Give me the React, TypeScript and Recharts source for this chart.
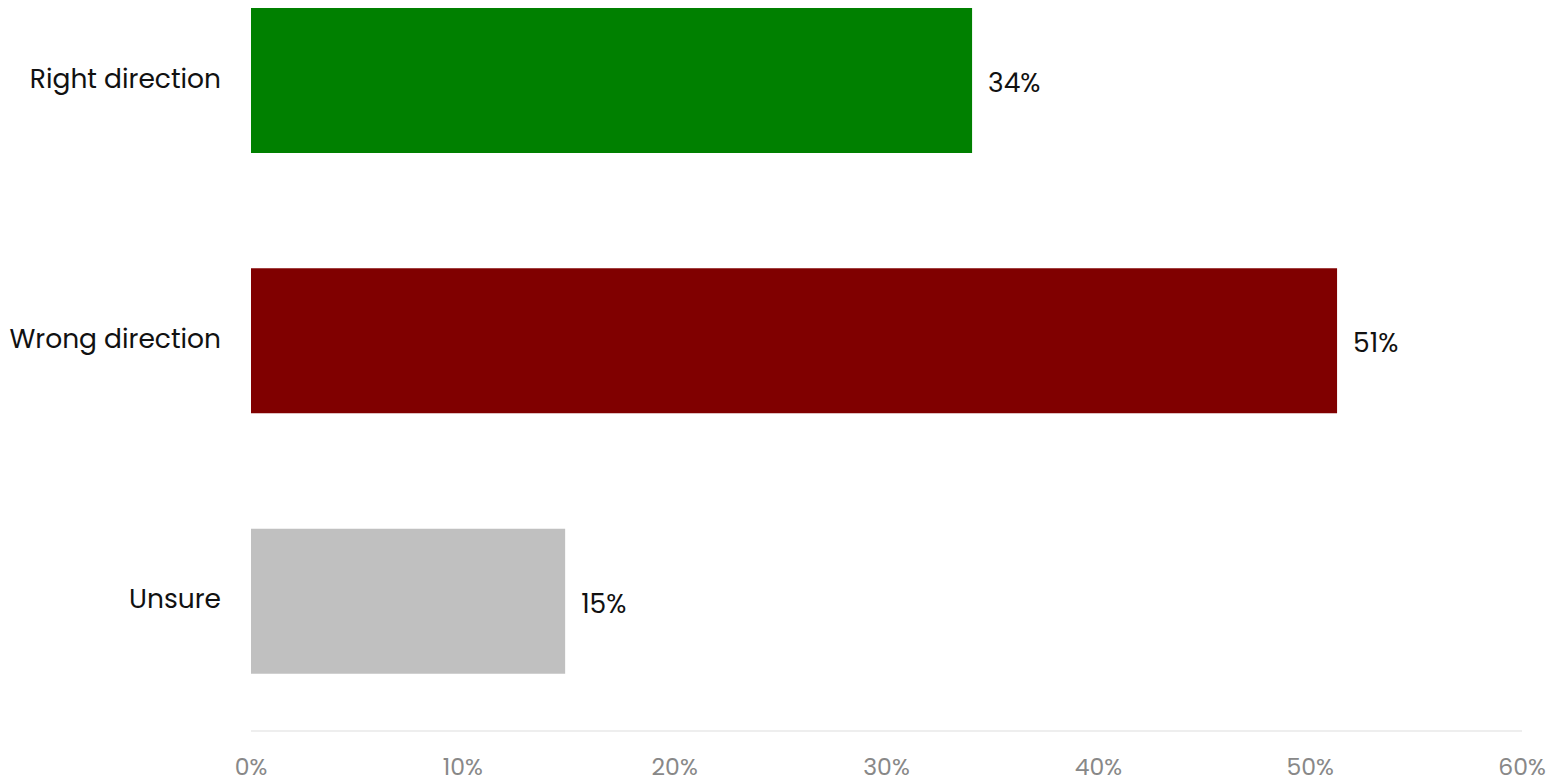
import { BarChart, Bar, XAxis, YAxis, Cell, LabelList } from 'recharts'

const categories = ['Right direction', 'Wrong direction', 'Unsure']
const shares = [34.04, 51.27, 14.83]
const barColors = ['#008000', '#800000', '#c0c0c0']
const xTicks = [0, 10, 20, 30, 40, 50, 60]

const data = categories.map((name, i) => ({ name, value: shares[i] }))

const font = 'Poppins, "Noto Sans", sans-serif'

export default function App() {
  return (
    <div style={{ position: 'absolute', top: -50, left: 0, width: 1550, height: 832, fontFamily: font }}>
      <BarChart
        width={1550}
        height={832}
        data={data}
        layout="vertical"
        margin={{ top: 0, right: 28, bottom: 0, left: 0 }}
      >
        <XAxis
          type="number"
          domain={[0, 60]}
          ticks={xTicks}
          tickFormatter={(v: number) => `${v}%`}
          height={51}
          stroke="#dddddd"
          tickLine={false}
          tickSize={0}
          tickMargin={27}
          tick={{ fill: '#888888', fontSize: 23.5, fontFamily: font }}
          interval={0}
        />
        <YAxis
          type="category"
          dataKey="name"
          width={251}
          axisLine={false}
          tickLine={false}
          tickSize={0}
          tickMargin={30}
          tick={{ fill: '#111111', fontSize: 26.5, fontFamily: font, dy: -2 }}
        />
        <Bar dataKey="value" barSize={145} isAnimationActive={false}>
          {data.map((d, i) => (
            <Cell key={d.name} fill={barColors[i]} />
          ))}
          <LabelList
            dataKey="value"
            position="right"
            offset={16}
            formatter={(v: number) => `${Math.round(v)}%`}
            style={{ fill: '#111111', fontSize: 26.5, fontFamily: font }}
            dy={2}
          />
        </Bar>
      </BarChart>
    </div>
  )
}
